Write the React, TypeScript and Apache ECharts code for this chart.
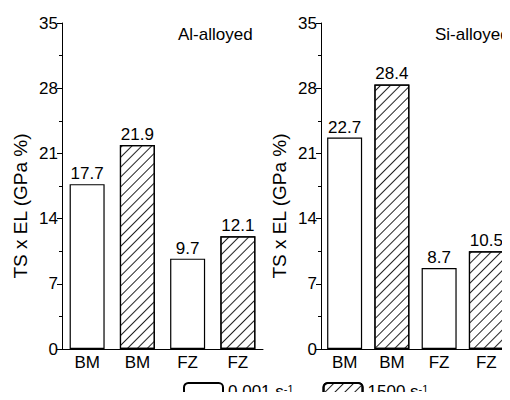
import React, { useEffect, useRef } from "react";
import * as echarts from "echarts";

const categories = ["BM", "BM", "FZ", "FZ"];
const alQuasi = [17.7, 9.7];
const alDynamic = [21.9, 12.1];
const siQuasi = [22.7, 8.7];
const siDynamic = [28.4, 10.5];
const yTicks = { min: 0, max: 35, interval: 7 };
const panelTitles = ["Al-alloyed", "Si-alloyed"];
const seriesNames = ["0.001 s-1", "1500 s-1"];
const yName = "TS x EL (GPa %)";

const FONT = "Arial, 'Liberation Sans', sans-serif";

export default function App() {
  const ref = useRef<HTMLDivElement>(null);
  useEffect(() => {
    if (!ref.current) return;
    const chart = echarts.init(ref.current, undefined, { renderer: "svg" });
    const decal = {
      symbol: "rect",
      symbolSize: 1,
      color: "#222",
      backgroundColor: "#fff",
      dashArrayX: [1, 0],
      dashArrayY: [1, 6],
      rotation: -Math.PI / 4,
    };
    const spread = (vals: number[], first: boolean) =>
      categories.map((_, i) => (i % 2 === (first ? 0 : 1) ? vals[Math.floor(i / 2)] : "-"));
    const label = {
      show: true,
      position: "top",
      distance: 2,
      color: "#000",
      fontSize: 17,
      fontFamily: FONT,
    };
    const mkSeries = (name: string, data: any[], idx: number, hatched: boolean) => ({
      type: "bar",
      name,
      xAxisIndex: idx,
      yAxisIndex: idx,
      data,
      barWidth: 35,
      barGap: "-100%",
      label,
      itemStyle: {
        color: "#fff",
        borderColor: "#000",
        borderWidth: 1.2,
        decal: hatched ? decal : undefined,
      },
    });
    const xAxis = (gridIndex: number) => ({
      type: "category",
      gridIndex,
      data: categories,
      axisLine: { lineStyle: { color: "#000", width: 1 } },
      axisTick: { show: false },
      axisLabel: { color: "#000", fontSize: 17, fontFamily: FONT, margin: 5 },
    });
    const yAxis = (gridIndex: number) => ({
      type: "value",
      gridIndex,
      ...yTicks,
      name: yName,
      nameLocation: "middle",
      nameGap: 32,
      nameTextStyle: { color: "#000", fontSize: 19, fontFamily: FONT, padding: [0, 40, 0, 0] },
      axisLine: { show: true, lineStyle: { color: "#000", width: 1 } },
      axisTick: { show: true, length: 5, lineStyle: { color: "#000" } },
      minorTick: { show: true, splitNumber: 2, length: 3, lineStyle: { color: "#000" } },
      splitLine: { show: false },
      axisLabel: { color: "#000", fontSize: 17, fontFamily: FONT, margin: 4 },
    });
    const richName = (name: string) => {
      const [a] = name.split("-");
      return `{a|${a}}{b|-1}`;
    };
    const titleStyle = { fontSize: 17, fontWeight: "normal", color: "#000", fontFamily: FONT };
    chart.setOption({
      animation: false,
      textStyle: { fontFamily: FONT },
      title: [
        { text: panelTitles[0], left: 178, top: 26, padding: 0, textStyle: titleStyle },
        { text: panelTitles[1], left: 435, top: 26, padding: 0, textStyle: titleStyle },
      ],
      legend: {
        left: 183,
        top: 382,
        itemWidth: 39,
        itemHeight: 17,
        itemGap: 29,
        padding: 0,
        data: seriesNames,
        formatter: richName,
        textStyle: {
          rich: {
            a: { fontSize: 17, lineHeight: 17, color: "#000", fontFamily: FONT },
            b: { fontSize: 11, lineHeight: 10, verticalAlign: "top", color: "#000", fontFamily: FONT },
          },
        },
      },
      grid: [
        { left: 62, top: 23, width: 201, bottom: 51 },
        { left: 321, top: 23, width: 201, bottom: 51 },
      ],
      xAxis: [xAxis(0), xAxis(1)],
      yAxis: [yAxis(0), yAxis(1)],
      series: [
        mkSeries(seriesNames[0], spread(alQuasi, true), 0, false),
        mkSeries(seriesNames[1], spread(alDynamic, false), 0, true),
        mkSeries(seriesNames[0], spread(siQuasi, true), 1, false),
        mkSeries(seriesNames[1], spread(siDynamic, false), 1, true),
      ],
    });
    return () => chart.dispose();
  }, []);
  return <div ref={ref} style={{ width: 510, height: 400, margin: -8 }} />;
}
